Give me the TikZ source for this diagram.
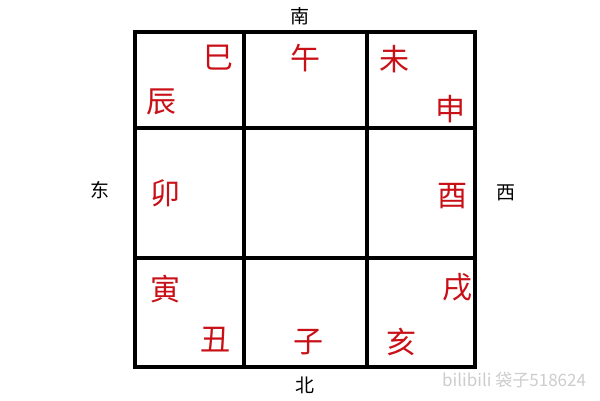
\documentclass[tikz,border=0pt]{standalone}
\usepackage{fontspec}
\newfontfamily\cjk{Noto Sans CJK SC}
\definecolor{branchred}{RGB}{200,16,22}
\definecolor{wmgray}{RGB}{205,205,205}
\begin{document}
\begin{tikzpicture}[x=1pt,y=-1pt,
  branch/.style={text=branchred,font=\cjk\fontsize{30}{30}\selectfont,inner sep=0pt},
  dirlabel/.style={text=black,font=\cjk\fontsize{19}{19}\selectfont,inner sep=0pt},
  gridline/.style={line width=4pt,line cap=rect}]
\useasboundingbox[fill=white] (0,0) rectangle (600,400);
% grid
\draw[gridline] (135,32) rectangle (475,367);
\draw[gridline] (244,32) -- (244,367);
\draw[gridline] (367,32) -- (367,367);
\draw[gridline] (135,128) -- (475,128);
\draw[gridline] (135,258) -- (475,258);
% branches
\node[branch] (si)   at (218,58)  {巳};
\node[branch] (chen) at (161,102) {辰};
\node[branch] (wu)   at (305,58)  {午};
\node[branch] (wei)  at (394,59)  {未};
\node[branch] (shen) at (450,109) {申};
\node[branch] (mao)  at (165,193) {卯};
\node[branch] (you)  at (452,196) {酉};
\node[branch] (yin)  at (165,289) {寅};
\node[branch] (xu)   at (457,287) {戌};
\node[branch] (chou) at (215,340) {丑};
\node[branch] (zi)   at (308,342) {子};
\node[branch] (hai)  at (401,342) {亥};
% directions
\node[dirlabel] (nan) at (300,16)  {南};
\node[dirlabel] (bei) at (305,385) {北};
\node[dirlabel] (dong) at (100,190) {东};
\node[dirlabel] (xi)  at (506,193) {西};
% watermark
\node[anchor=west,text=wmgray,font=\cjk\fontsize{17}{17}\selectfont,inner sep=0pt] (wm) at (442,380) {bilibili 袋子518624};
\end{tikzpicture}
\end{document}
